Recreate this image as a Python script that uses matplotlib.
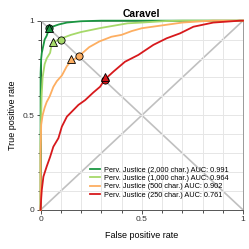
import matplotlib
matplotlib.use("Agg")
import matplotlib.pyplot as plt
import numpy as np

plt.rcParams['font.family'] = ['Liberation Sans', 'DejaVu Sans']

title = "Caravel"
labels = ["Perv. Justice (2,000 char.) AUC: 0.991",
          "Perv. Justice (1,000 char.) AUC: 0.964",
          "Perv. Justice (500 char.) AUC: 0.902",
          "Perv. Justice (250 char.) AUC: 0.761"]
colors = ["#1a9641", "#a6d96a", "#fdae61", "#d7191c"]

fpr_2000 = [0, 0, 0.003, 0.006, 0.014, 0.02, 0.03, 0.043, 0.063, 0.09, 0.13, 0.2, 0.3, 1]
tpr_2000 = [0, 0.72, 0.8, 0.83, 0.87, 0.9, 0.92, 0.96, 0.97, 0.98, 0.99, 0.997, 1, 1]

fpr_1000 = [0, 0, 0.005, 0.01, 0.02, 0.03, 0.047, 0.055, 0.08, 0.1, 0.15, 0.2, 0.3, 0.43, 0.5, 0.62, 0.7, 1]
tpr_1000 = [0, 0.35, 0.6, 0.7, 0.77, 0.8, 0.83, 0.875, 0.895, 0.905, 0.925, 0.94, 0.962, 0.986, 0.99, 0.998, 1, 1]

fpr_500 = [0, 0, 0.003, 0.01, 0.02, 0.03, 0.045, 0.063, 0.08, 0.105, 0.13, 0.15, 0.19, 0.24, 0.29, 0.35, 0.4, 0.45, 0.5, 0.6, 0.7, 0.8, 0.85, 1]
tpr_500 = [0, 0.3, 0.45, 0.5, 0.54, 0.57, 0.6, 0.65, 0.68, 0.71, 0.76, 0.785, 0.813, 0.86, 0.89, 0.915, 0.925, 0.945, 0.96, 0.975, 0.99, 0.997, 1, 1]

fpr_250 = [0, 0.003, 0.006, 0.014, 0.03, 0.047, 0.063, 0.088, 0.105, 0.13, 0.154, 0.187, 0.22, 0.26, 0.294, 0.318, 0.36, 0.417, 0.483, 0.557, 0.623, 0.689, 0.755, 0.853, 0.92, 0.985, 1]
tpr_250 = [0, 0.06, 0.106, 0.176, 0.229, 0.28, 0.334, 0.379, 0.44, 0.493, 0.519, 0.555, 0.58, 0.62, 0.651, 0.69, 0.731, 0.783, 0.819, 0.872, 0.907, 0.933, 0.968, 0.99, 0.995, 1, 1]

circle_x = [0.043, 0.10, 0.19, 0.317]
circle_y = [0.961, 0.90, 0.813, 0.687]
tri_x = [0.04, 0.063, 0.152, 0.32]
tri_y = [0.96, 0.889, 0.796, 0.704]

fprs = [fpr_2000, fpr_1000, fpr_500, fpr_250]
tprs = [tpr_2000, tpr_1000, tpr_500, tpr_250]

fig = plt.figure(figsize=(2.49, 2.49), dpi=100)
ax = fig.add_axes([0.163, 0.157, 0.813, 0.76])

ax.set_xlim(0, 1)
ax.set_ylim(0, 1)
ax.set_xticks([0, 0.5, 1])
ax.set_xticklabels(["0", "0.5", "1"])
ax.set_yticks([0, 0.5, 1])
ax.set_yticklabels(["0", "0.5", "1"])
ax.set_xticks(np.arange(0, 1.01, 0.1), minor=True)
ax.set_yticks(np.arange(0, 1.01, 0.1), minor=True)
ax.grid(True, which='both', color='#e6e6e6', lw=0.7, zorder=0)
ax.tick_params(which='major', direction='out', length=3, width=0.6, labelsize=6, pad=1.5, colors='#333333')
ax.tick_params(which='minor', direction='out', length=2, width=0.6, colors='#333333')
for s in ax.spines.values():
    s.set_color('#999999')
    s.set_linewidth(0.7)
ax.spines['left'].set_color('#333333')
ax.spines['bottom'].set_color('#555555')

ax.plot([0, 1], [0, 1], color='#c0c0c0', lw=1.2, zorder=1)
ax.plot([0, 1], [1, 0], color='#c0c0c0', lw=1.2, zorder=1)

for f, t, c, l in zip(fprs, tprs, colors, labels):
    ax.plot(f, t, color=c, lw=1.3, label=l, zorder=3, clip_on=False)

for i in range(4):
    ax.plot(circle_x[i], circle_y[i], 'o', ms=5.2, mfc=colors[i], mec='black', mew=0.6, zorder=5)
    ax.plot(tri_x[i], tri_y[i], '^', ms=5.4, mfc=colors[i], mec='black', mew=0.6, zorder=5)

ax.set_title(title, fontsize=7.5, fontweight='bold', pad=3)
ax.set_xlabel("False positive rate", fontsize=6.5, labelpad=6)
ax.set_ylabel("True positive rate", fontsize=6.5, labelpad=4)

leg = ax.legend(loc='lower left', fontsize=5.3, frameon=False, handlelength=1.4,
                handletextpad=0.45, labelspacing=0.15, borderaxespad=0, borderpad=0,
                bbox_to_anchor=(0.244, 0.06))

fig.savefig("out.png", dpi=100)
